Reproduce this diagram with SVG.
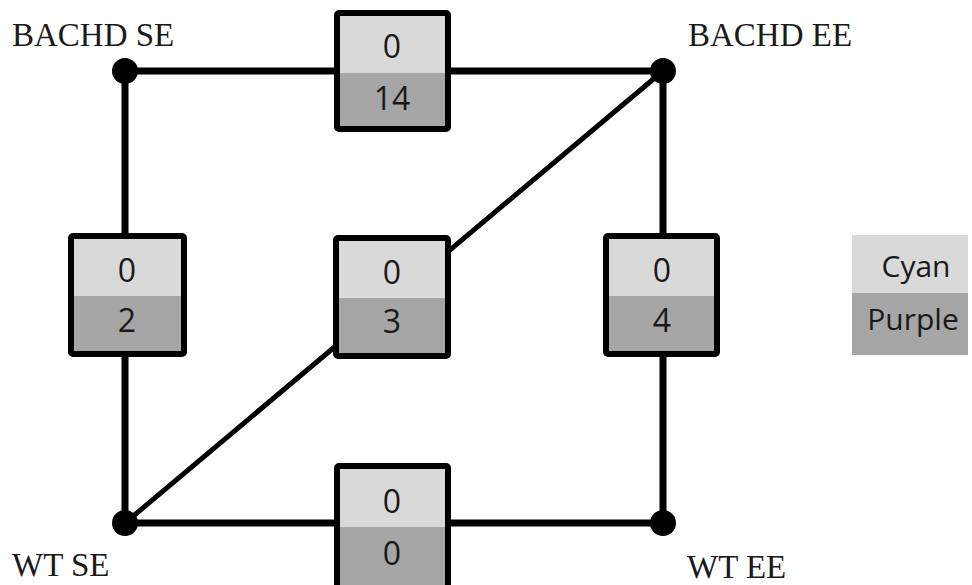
<svg xmlns="http://www.w3.org/2000/svg" width="972" height="585" viewBox="0 0 972 585">
<style>
.lbl{font-family:"Liberation Serif","DejaVu Serif",serif;font-size:33px;fill:#1a1a1a}
.num{font-family:"Open Sans","Noto Sans",sans-serif;font-size:32px;fill:#1a1a1a;text-anchor:middle}
.leg{font-family:"Open Sans","Noto Sans",sans-serif;font-size:30px;fill:#1a1a1a;text-anchor:middle}
.hi{fill:#d9d9d9}
.lo{fill:#a6a6a6}
.frame{fill:none;stroke:#000;stroke-width:6;stroke-linejoin:round}
.edge{stroke:#000;stroke-width:7;fill:none}
.diag{stroke:#000;stroke-width:5;fill:none}
</style>
<rect width="972" height="585" fill="#fff"/>
<g id="connectors">
<line class="edge" x1="125" y1="71" x2="663" y2="71"/>
<line class="edge" x1="125" y1="71" x2="125" y2="523"/>
<line class="edge" x1="663" y1="71" x2="663" y2="523"/>
<line class="edge" x1="125" y1="523" x2="663" y2="523"/>
<line class="diag" x1="125" y1="523" x2="663" y2="71"/>
</g>
<g id="bachd-se"><circle cx="125" cy="71" r="13"/><text class="lbl" x="12" y="46">BACHD SE</text></g>
<g id="bachd-ee"><circle cx="663" cy="71" r="13"/><text class="lbl" x="688" y="46">BACHD EE</text></g>
<g id="wt-se"><circle cx="125" cy="523" r="13"/><text class="lbl" x="12" y="576">WT SE</text></g>
<g id="wt-ee"><circle cx="663" cy="523" r="13"/><text class="lbl" x="687" y="578">WT EE</text></g>
<g id="box-top">
<rect class="hi" x="337" y="13" width="111" height="60"/><rect class="lo" x="337" y="73" width="111" height="56"/>
<rect class="frame" x="337" y="13" width="111" height="116" rx="2"/>
<text class="num" x="392" y="58">0</text><text class="num" x="392" y="110">14</text>
</g>
<g id="box-left">
<rect class="hi" x="71" y="236" width="113" height="60"/><rect class="lo" x="71" y="296" width="113" height="58"/>
<rect class="frame" x="71" y="236" width="113" height="118" rx="2"/>
<text class="num" x="127" y="282">0</text><text class="num" x="127" y="332">2</text>
</g>
<g id="box-mid">
<rect class="hi" x="336" y="238" width="112" height="60"/><rect class="lo" x="336" y="298" width="112" height="58"/>
<rect class="frame" x="336" y="238" width="112" height="118" rx="2"/>
<text class="num" x="392" y="284">0</text><text class="num" x="392" y="333">3</text>
</g>
<g id="box-right">
<rect class="hi" x="606" y="236" width="111" height="60"/><rect class="lo" x="606" y="296" width="111" height="58"/>
<rect class="frame" x="606" y="236" width="111" height="118" rx="2"/>
<text class="num" x="662" y="282">0</text><text class="num" x="662" y="332">4</text>
</g>
<g id="box-bottom">
<rect class="hi" x="337" y="466" width="111" height="61"/><rect class="lo" x="337" y="527" width="111" height="62"/>
<rect class="frame" x="337" y="466" width="111" height="124" rx="2"/>
<text class="num" x="392" y="513">0</text><text class="num" x="392" y="565">0</text>
</g>
<g id="legend">
<rect class="hi" x="852" y="235" width="116" height="58"/><rect class="lo" x="852" y="293" width="116" height="62"/>
<text class="leg" x="916" y="277">Cyan</text><text class="leg" x="913" y="330">Purple</text>
</g>
</svg>
